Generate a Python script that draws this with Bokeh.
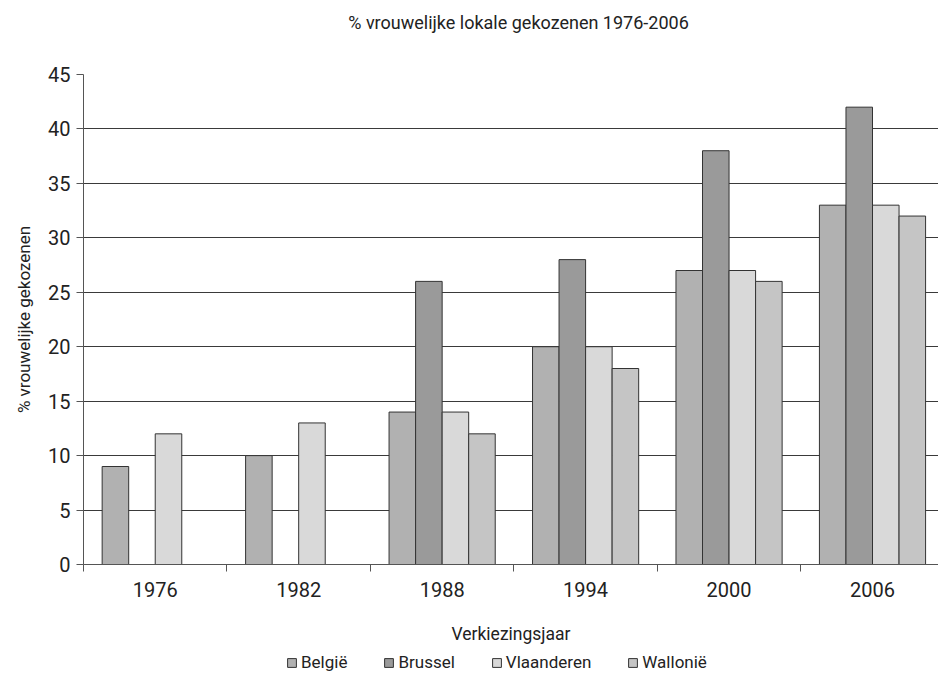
from bokeh.plotting import figure
from bokeh.layouts import column
from bokeh.models import FixedTicker, Legend, LegendItem, Range1d, ColumnDataSource, Label
from bokeh.embed import file_html
from bokeh.resources import INLINE

title_text = "% vrouwelijke lokale gekozenen 1976-2006"
years = ["1976", "1982", "1988", "1994", "2000", "2006"]
series = ["België", "Brussel", "Vlaanderen", "Wallonië"]
belgie = [9, 10, 14, 20, 27, 33]
brussel = [None, None, 26, 28, 38, 42]
vlaanderen = [12, 13, 14, 20, 27, 33]
wallonie = [None, None, 12, 18, 26, 32]
y_ticks = [0, 5, 10, 15, 20, 25, 30, 35, 40, 45]

colors = ["#b1b1b1", "#9a9a9a", "#d9d9d9", "#c5c5c5"]
FONT = "Roboto"
TXT = "#222222"

# header strip with the title
h = figure(width=938, height=54, x_range=Range1d(0, 1), y_range=Range1d(0, 1),
           output_backend="svg", toolbar_location=None, min_border=0)
h.axis.visible = False
h.grid.visible = False
h.outline_line_color = None
h.add_layout(Label(x=435, y=32, x_units="screen", y_units="screen", text=title_text,
                   text_align="center", text_baseline="middle", text_font=FONT,
                   text_font_size="18px", text_color=TXT))

p = figure(width=938, height=592, x_range=Range1d(0, 5.96), y_range=Range1d(0, 45),
           output_backend="svg", toolbar_location=None,
           min_border_left=83, min_border_right=0, min_border_top=20,
           min_border_bottom=80)
p.outline_line_color = None

bar_w = 0.185
offsets = [-1.5 * bar_w, -0.5 * bar_w, 0.5 * bar_w, 1.5 * bar_w]
sources = []
for vals, off, col in zip([belgie, brussel, vlaanderen, wallonie], offsets, colors):
    xs = [i + 0.5 + off for i, v in enumerate(vals) if v is not None]
    ys = [v for v in vals if v is not None]
    src = ColumnDataSource(dict(x=xs, top=ys))
    sources.append(src)
    p.vbar(x="x", top="top", bottom=0, width=bar_w, source=src,
           fill_color=col, line_color="#333333", line_width=1)

# grid
p.xgrid.grid_line_color = None
p.ygrid.ticker = FixedTicker(ticks=y_ticks)
p.ygrid.grid_line_color = "#3a3a3a"
p.ygrid.grid_line_width = 1

# y axis
p.yaxis.ticker = FixedTicker(ticks=y_ticks)
p.yaxis.axis_line_color = "#555555"
p.yaxis.major_tick_line_color = "#555555"
p.yaxis.major_tick_out = 7
p.yaxis.major_tick_in = 0
p.yaxis.minor_tick_line_color = None
p.yaxis.major_label_standoff = 6
p.yaxis.major_label_text_font = FONT
p.yaxis.major_label_text_font_size = "20px"
p.yaxis.major_label_text_color = TXT
p.yaxis.axis_label = "% vrouwelijke gekozenen"
p.yaxis.axis_label_text_font = FONT
p.yaxis.axis_label_text_font_size = "17px"
p.yaxis.axis_label_text_font_style = "normal"
p.yaxis.axis_label_text_color = TXT
p.yaxis.axis_label_standoff = 11

# x axis
centers = [i + 0.5 for i in range(len(years))]
bounds = [float(i) for i in range(len(years) + 1)]
p.xaxis.ticker = FixedTicker(ticks=centers, minor_ticks=bounds)
p.xaxis.major_label_overrides = {c: y for c, y in zip(centers, years)}
p.xaxis.axis_line_color = "#555555"
p.xaxis.major_tick_line_color = None
p.xaxis.major_tick_out = 0
p.xaxis.major_tick_in = 0
p.xaxis.minor_tick_line_color = "#555555"
p.xaxis.minor_tick_out = 7
p.xaxis.minor_tick_in = 0
p.xaxis.major_label_standoff = 10
p.xaxis.major_label_text_font = FONT
p.xaxis.major_label_text_font_size = "20px"
p.xaxis.major_label_text_color = TXT
p.xaxis.axis_label = "Verkiezingsjaar"
p.xaxis.axis_label_text_font = FONT
p.xaxis.axis_label_text_font_size = "17.5px"
p.xaxis.axis_label_text_font_style = "normal"
p.xaxis.axis_label_text_color = TXT
p.xaxis.axis_label_standoff = 24

# legend strip (frame aligned with the main plot's frame by the column layout)
q = figure(width=938, height=36, x_range=Range1d(0, 1), y_range=Range1d(1000, 1001),
           output_backend="svg", toolbar_location=None, min_border=0)
q.axis.visible = False
q.grid.visible = False
q.outline_line_color = None
legend_renderers = []
for src, col in zip(sources, colors):
    legend_renderers.append(q.vbar(x="x", top="top", bottom=0, width=bar_w, source=src,
                                   fill_color=col, line_color="#333333", line_width=1))
legend = Legend(items=[LegendItem(label=s, renderers=[r]) for s, r in zip(series, legend_renderers)],
                orientation="horizontal", location=(203, 10))
legend.label_text_font = FONT
legend.label_text_font_size = "17px"
legend.label_text_color = TXT
legend.glyph_width = 11
legend.glyph_height = 11
legend.label_standoff = 4
legend.spacing = 36
legend.padding = 0
legend.margin = 0
legend.border_line_color = None
legend.background_fill_alpha = 0
q.add_layout(legend)

layout = column(h, p, q, spacing=0)
open("out.html", "w").write(file_html(layout, INLINE))
